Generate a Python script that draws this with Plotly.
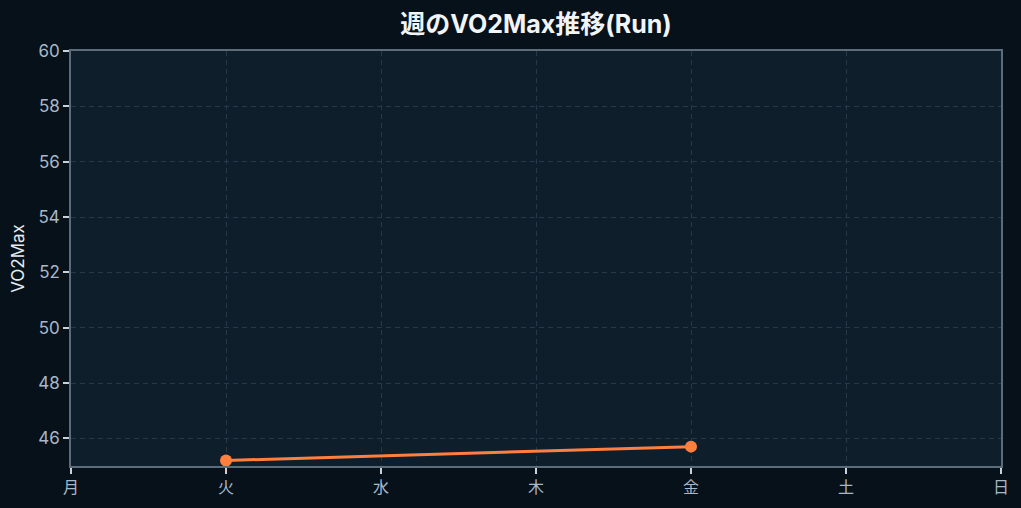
import plotly.graph_objects as go

# week days and VO2Max values (None = no run that day)
DAYS = ['月', '火', '水', '木', '金', '土', '日']
VO2MAX = [None, 45.2, None, None, 45.7, None, None]
Y_TICKS = [46, 48, 50, 52, 54, 56, 58, 60]

LINE_COLOR = '#ff7f3f'
GRID_COLOR = '#27384a'
TICK_COLOR = '#a9b8c8'

xs = [i for i, v in enumerate(VO2MAX) if v is not None]
ys = [v for v in VO2MAX if v is not None]

fig = go.Figure()
fig.add_trace(go.Scatter(
    x=xs, y=ys, mode='lines+markers',
    line=dict(color=LINE_COLOR, width=3),
    marker=dict(color=LINE_COLOR, size=12),
    showlegend=False,
))

fig.update_layout(
    width=1021, height=508,
    margin=dict(l=71, r=20, t=51, b=42),
    paper_bgcolor='#07111a',
    plot_bgcolor='#0f1e2b',
    font=dict(family='Inter, Noto Sans CJK JP, sans-serif', color=TICK_COLOR, size=16),
    title=dict(text='<b>週のVO2Max推移(Run)</b>', xref='paper', x=0.5, xanchor='center',
               y=0.953, yanchor='middle', font=dict(size=25, color='#f2f5f8')),
)
fig.update_xaxes(
    range=[0, 6], tickvals=list(range(len(DAYS))), ticktext=DAYS,
    showgrid=True, gridcolor=GRID_COLOR, griddash='5px,4px', gridwidth=1,
    showline=True, linecolor='#5d6c7a', linewidth=1.5, mirror=True,
    ticks='outside', ticklen=6, tickcolor='#c8d2dc', tickwidth=1.5,
    tickfont=dict(color=TICK_COLOR, size=16), zeroline=False,
)
fig.update_yaxes(
    range=[45, 60], tickvals=Y_TICKS,
    showgrid=True, gridcolor=GRID_COLOR, griddash='5px,4px', gridwidth=1,
    showline=True, linecolor='#5d6c7a', linewidth=1.5, mirror=True,
    ticks='outside', ticklen=6, tickcolor='#c8d2dc', tickwidth=1.5,
    tickfont=dict(color=TICK_COLOR, size=17), zeroline=False,
    title=dict(text='VO2Max', font=dict(color='#e6ecf2', size=17), standoff=9),
)

fig.write_html("out.html", config={'displayModeBar': False},
               post_script="document.body.style.margin='0';")
